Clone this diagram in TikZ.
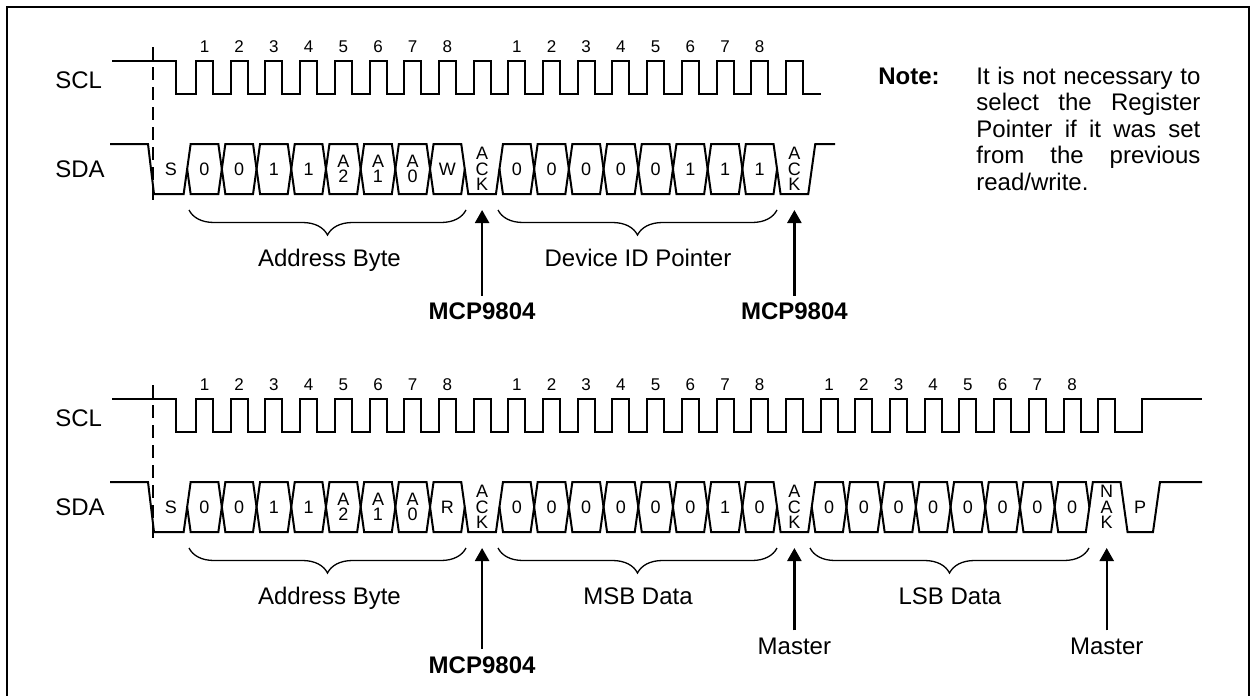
\documentclass[tikz,border=0pt]{standalone}
\usepackage{fontspec}
\setmainfont{Liberation Sans}
\usetikzlibrary{arrows.meta, decorations.pathreplacing}

% corners of bit cell #1 on the SDA line
\newcommand{\getcell}[1]{%
  \pgfmathsetmacro{\cla}{187.15+34.7*#1}%
  \pgfmathsetmacro{\clb}{\cla+34.7}%
  \pgfmathsetmacro{\clm}{\cla+17.35}}
\newcommand{\hexcell}[3]{\getcell{#1}
  \draw[sig] (\cla,169) -- (\cla+3.5,144) -- (\clb-3.5,144) -- (\clb,169) -- (\clb-3.5,194) -- (\cla+3.5,194) -- cycle;
  \node[bit] (#2) at (\clm,169) {#3};}
\newcommand{\lowcell}[3]{\getcell{#1}
  \draw[sig] (\cla,169) -- (\cla+3.5,194) -- (\clb-3.5,194) -- (\clb,169);
  \node[bit] (#2) at (\clm,169) {#3};}
\newcommand{\highcell}[3]{\getcell{#1}
  \draw[sig] (\cla,169) -- (\cla+3.5,144) -- (\clb-3.5,144) -- (\clb,169);
  \node[bit] (#2) at (\clm,169) {#3};}

\begin{document}
\begin{tikzpicture}[x=0.5pt, y=-0.5pt,
  sig/.style={line width=1pt},
  startline/.style={line width=1pt, dash pattern=on 6.5pt off 3.5pt},
  bit/.style={inner sep=0pt, align=center, font=\fontsize{9}{7.6}\selectfont},
  num/.style={inner sep=0pt, anchor=base, font=\fontsize{8.5}{9}\selectfont},
  lbl/.style={anchor=base, font=\fontsize{12}{14}\selectfont},
  boldlbl/.style={lbl, font=\fontsize{12}{14}\selectfont\bfseries},
  brc/.style={decorate, decoration={brace, mirror, amplitude=12.5pt}, line width=0.65pt},
  ->/.style={-{Triangle[width=7pt, length=6.5pt]}, line width=1.2pt}]
  \useasboundingbox (0,0) rectangle (1253,696);
  \draw[line width=1pt] (7,700) -- (7,7) -- (1249,7) -- (1249,700);

  % write: address byte, device ID pointer
  \node[lbl, anchor=base west, inner sep=0pt] (wscl) at (55,88) {SCL};
  \node[lbl, anchor=base west, inner sep=0pt] (wsda) at (55,177) {SDA};
  \draw[startline] (153,47) -- (153,203);
  \draw[sig] (112,61) -- (176,61) -- (176,94)
    foreach \k in {0,...,17} { -- ({196+34.7*\k},94) -- ++(0,-33) -- ++(17,0) -- ++(0,33) }
    -- (821,94);
  \foreach \n in {1,...,8} {
    \node[num] (wa\n) at ({204.5+34.7*(\n-1)},52.7) {\n};
    \node[num] (wb\n) at ({204.5+34.7*(\n+8)},52.7) {\n};
  }
  \draw[sig] (110,144) -- (148,144) -- (154,194) -- (183.65,194) -- (187.15,169);
  \node[bit] (ws) at (171,169) {S};
  \foreach \k/\t in {0/0, 1/0, 2/1, 3/1, 4/{A\\2}, 5/{A\\1}, 6/{A\\0}, 7/W,
      9/0, 10/0, 11/0, 12/0, 13/0, 14/1, 15/1, 16/1}
    {\hexcell{\k}{w\k}{\t}}
  \lowcell{8}{w8}{A\\C\\K}
  \lowcell{17}{w17}{A\\C\\K}
  \draw[sig] (811.75,169) -- (815.25,144) -- (835,144);
  \draw[brc] (189,210) -- (466,210);
  \draw[brc] (498,210) -- (777,210);
  \node[lbl] (wadr) at (329.5,266.5) {Address Byte};
  \node[lbl] (wptr) at (638,266.5) {Device ID Pointer};
  \coordinate (wt1) at (482.1,210);
  \coordinate (wt2) at (794.4,210);
  \node[boldlbl] (wdev1) at (482.1,319.5) {MCP9804};
  \node[boldlbl] (wdev2) at (794.4,319.5) {MCP9804};
  \draw[->] (wdev1) -- (wt1);
  \draw[->] (wdev2) -- (wt2);

  % note
  \node[boldlbl, anchor=base west, inner sep=0pt] (notehd) at (878,84) {Note:};
  \node[lbl, anchor=base west, inner sep=0pt, text width=112pt, align=justify,
    font=\fontsize{12}{13.25}\selectfont] (notetxt) at (976,84)
    {\tolerance=10000 \hyphenpenalty=10000 \noindent It is not necessary to\linebreak
     select the Register\linebreak Pointer if it was set\linebreak
     from the previous\linebreak read/write.};

  % read: address byte, MSB data, LSB data
  \begin{scope}[yshift=-169pt]
    \node[lbl, anchor=base west, inner sep=0pt] (rscl) at (55,88) {SCL};
    \node[lbl, anchor=base west, inner sep=0pt] (rsda) at (55,177) {SDA};
    \draw[startline] (153,47) -- (153,203);
    \draw[sig] (112,61) -- (176,61) -- (176,94)
      foreach \k in {0,...,26} { -- ({196+34.7*\k},94) -- ++(0,-33) -- ++(17,0) -- ++(0,33) }
      -- (1142,94) -- (1142,61) -- (1202,61);
    \foreach \n in {1,...,8} {
      \node[num] (ra\n) at ({204.5+34.7*(\n-1)},52.7) {\n};
      \node[num] (rb\n) at ({204.5+34.7*(\n+8)},52.7) {\n};
      \node[num] (rc\n) at ({204.5+34.7*(\n+17)},52.7) {\n};
    }
    \draw[sig] (110,144) -- (148,144) -- (154,194) -- (183.65,194) -- (187.15,169);
    \node[bit] (rs) at (171,169) {S};
    \foreach \k/\t in {0/0, 1/0, 2/1, 3/1, 4/{A\\2}, 5/{A\\1}, 6/{A\\0}, 7/R,
        9/0, 10/0, 11/0, 12/0, 13/0, 14/0, 15/1, 16/0,
        18/0, 19/0, 20/0, 21/0, 22/0, 23/0, 24/0, 25/0}
      {\hexcell{\k}{r\k}{\t}}
    \lowcell{8}{r8}{A\\C\\K}
    \lowcell{17}{r17}{A\\C\\K}
    \highcell{26}{r26}{N\\A\\K}
    \draw[sig] (1124.05,169) -- (1127.55,194) -- (1153,194) -- (1160,144) -- (1202,144);
    \node[bit] (rp) at (1140,169) {P};
    \draw[brc] (189,210) -- (466,210);
    \draw[brc] (498,210) -- (777,210);
    \draw[brc] (810,210) -- (1089,210);
    \node[lbl] (radr) at (329.5,266.5) {Address Byte};
    \node[lbl] (rmsb) at (638,266.5) {MSB Data};
    \node[lbl] (rlsb) at (950,266.5) {LSB Data};
    \coordinate (rt1) at (482.1,210);
    \coordinate (rt2) at (794.4,210);
    \coordinate (rt3) at (1106.7,210);
    \node[boldlbl] (rdev) at (482.1,335) {MCP9804};
    \node[lbl] (rmst1) at (794.4,316) {Master};
    \node[lbl] (rmst2) at (1106.7,316) {Master};
    \draw[->] (rdev) -- (rt1);
    \draw[->] (rmst1) -- (rt2);
    \draw[->] (rmst2) -- (rt3);
  \end{scope}
\end{tikzpicture}
\end{document}
